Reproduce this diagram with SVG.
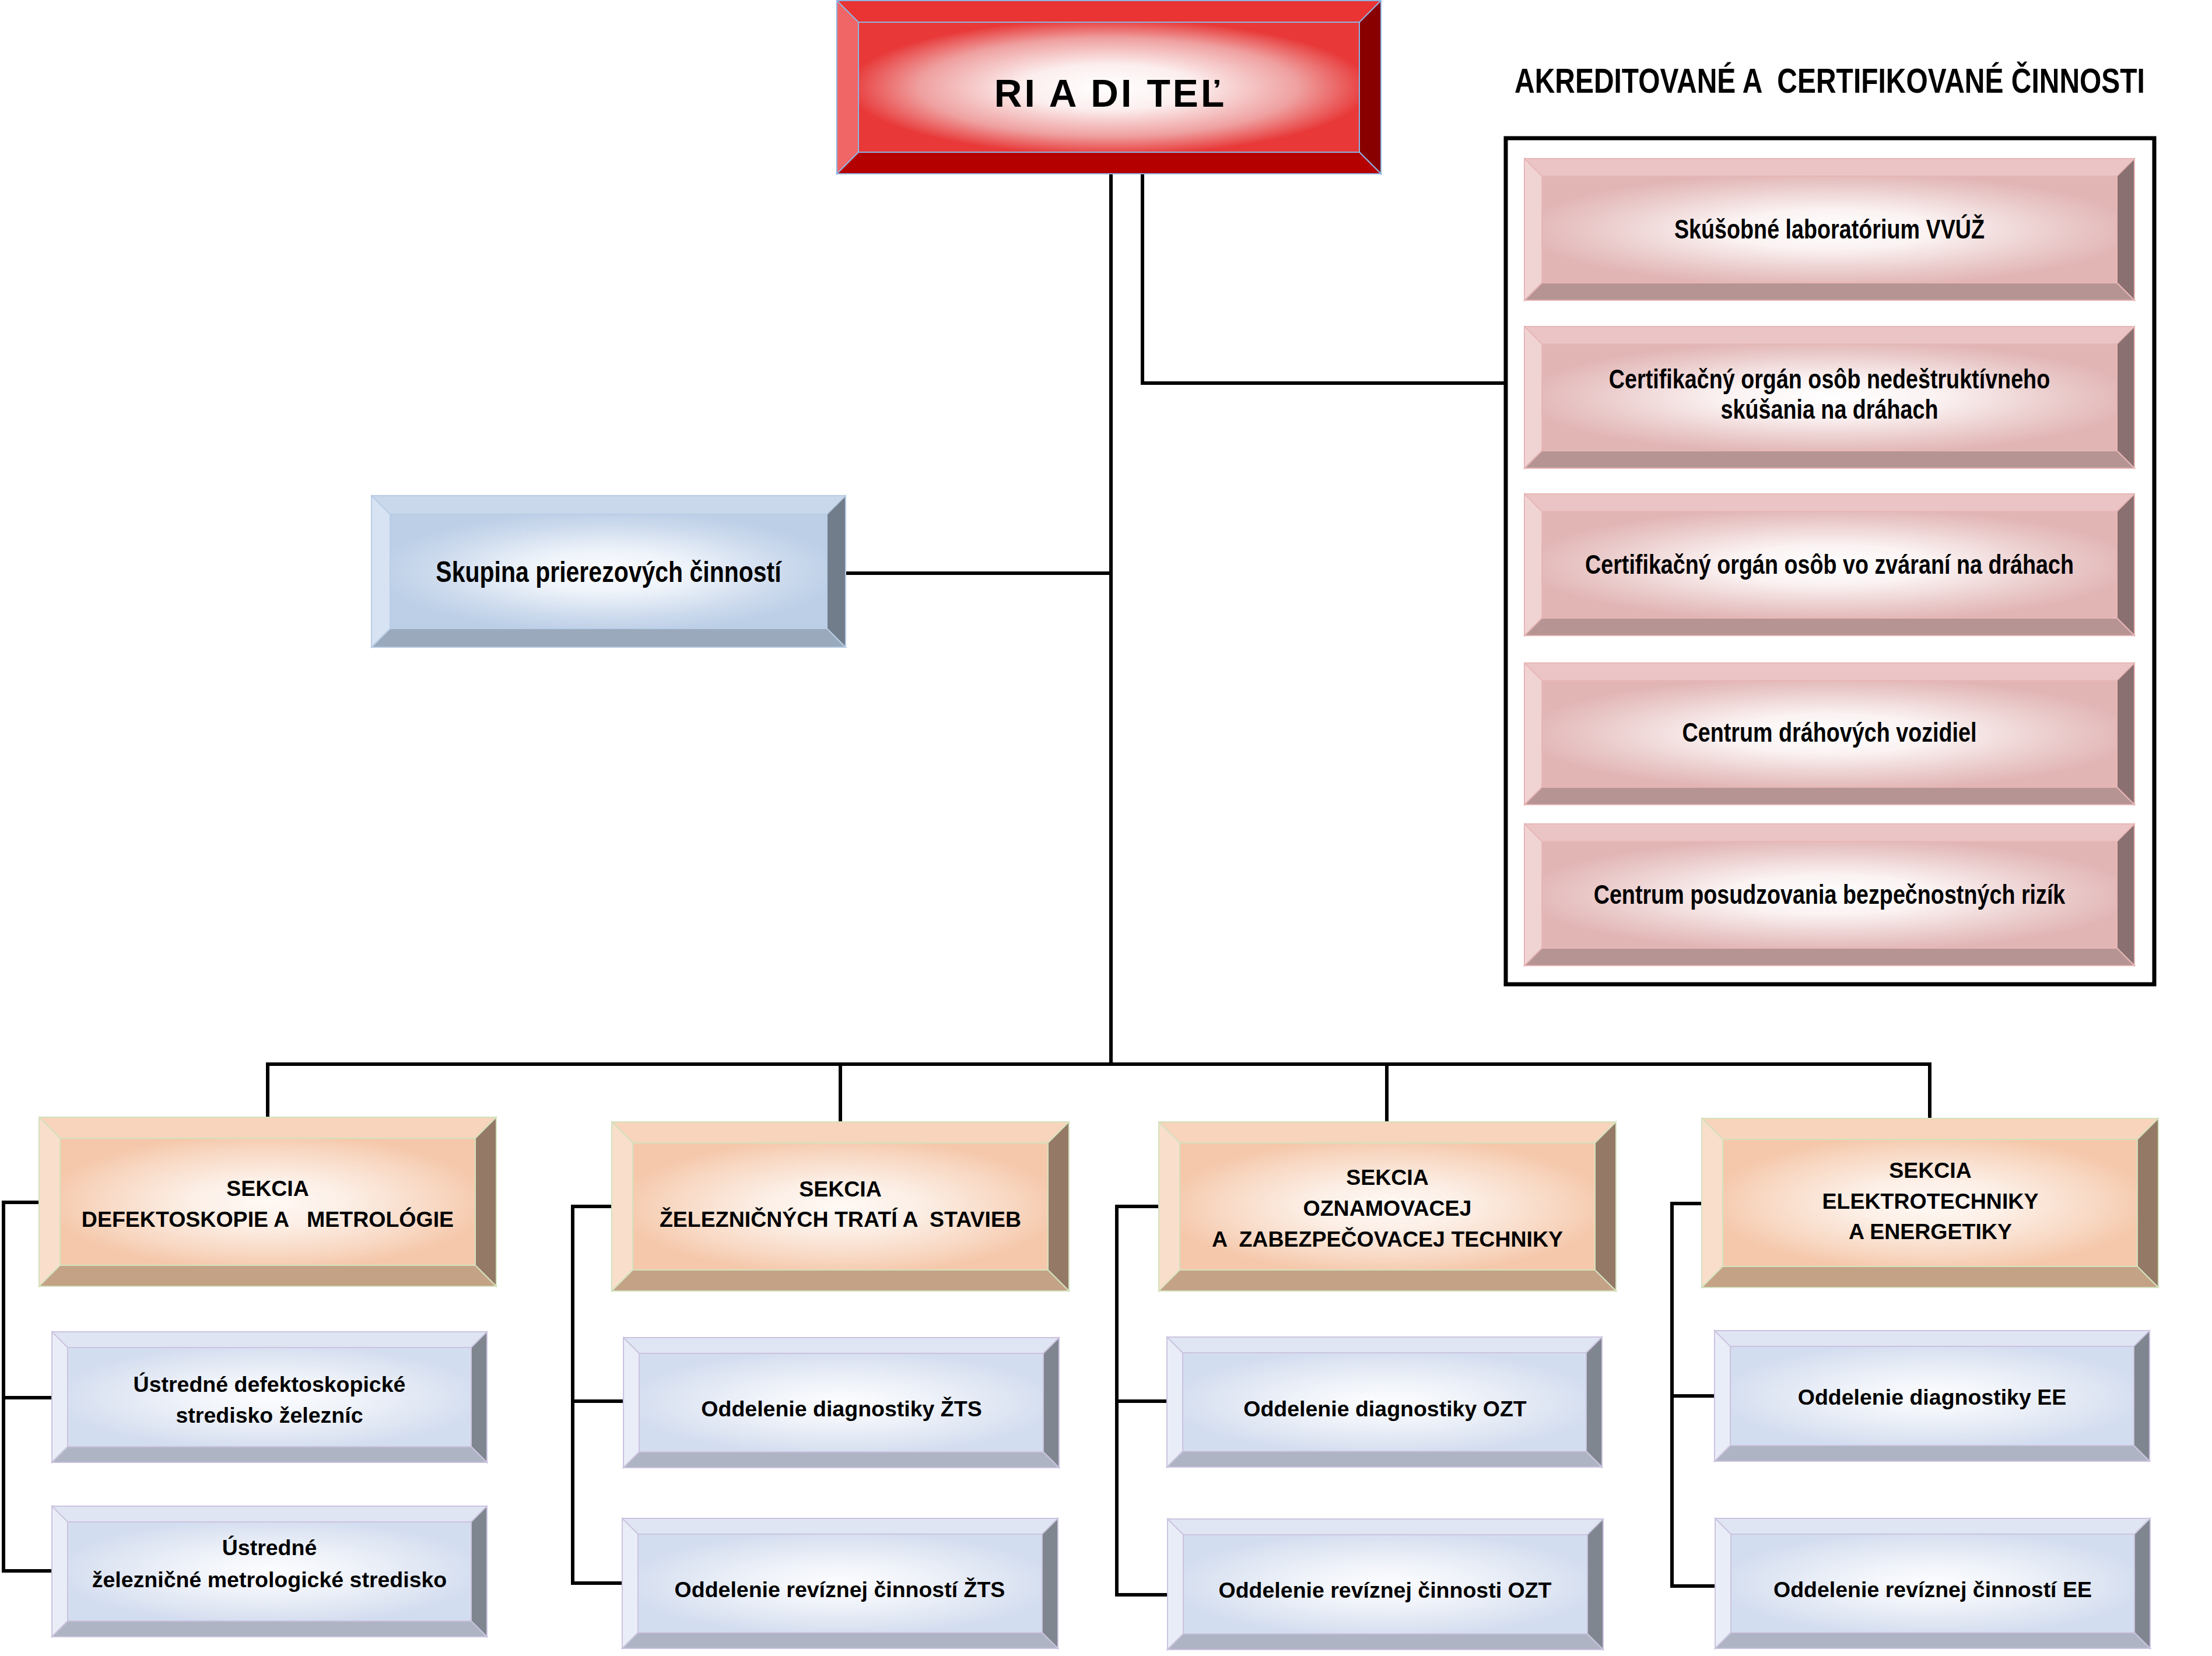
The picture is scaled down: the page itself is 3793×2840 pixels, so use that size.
<svg xmlns="http://www.w3.org/2000/svg" width="3793" height="2840" viewBox="0 0 3793 2840">
<defs>
<radialGradient id="gRed" cx="0.5" cy="0.5" r="0.58"><stop offset="0" stop-color="#FFFFFF"/><stop offset="0.3" stop-color="#FCEEEE"/><stop offset="0.65" stop-color="#EFA0A0"/><stop offset="0.9" stop-color="#E83838"/></radialGradient>
<radialGradient id="gPink" cx="0.5" cy="0.5" r="0.58"><stop offset="0" stop-color="#FFFFFF"/><stop offset="0.32" stop-color="#FBF2F2"/><stop offset="0.7" stop-color="#EACACA"/><stop offset="0.92" stop-color="#E2B5B5"/></radialGradient>
<radialGradient id="gSky" cx="0.5" cy="0.5" r="0.58"><stop offset="0" stop-color="#FBFCFE"/><stop offset="0.32" stop-color="#EEF3FA"/><stop offset="0.7" stop-color="#CCDAED"/><stop offset="0.92" stop-color="#BCCFE7"/></radialGradient>
<radialGradient id="gOr" cx="0.5" cy="0.5" r="0.58"><stop offset="0" stop-color="#FFF9F5"/><stop offset="0.32" stop-color="#FCEFE6"/><stop offset="0.7" stop-color="#F8D8C3"/><stop offset="0.92" stop-color="#F5C8AB"/></radialGradient>
<radialGradient id="gLav" cx="0.5" cy="0.5" r="0.58"><stop offset="0" stop-color="#FCFDFF"/><stop offset="0.32" stop-color="#F1F4FA"/><stop offset="0.7" stop-color="#DFE6F3"/><stop offset="0.92" stop-color="#D3DDF0"/></radialGradient>
</defs>
<style>
text{font-family:"Liberation Sans",Arial,sans-serif;font-weight:bold;fill:#000;white-space:pre}
.w{font-size:37.5px;text-anchor:middle}
.n{text-anchor:middle}
.conn path{fill:none;stroke:#000;stroke-width:6}
.red rect,.red polygon{stroke:#8EB4E3;stroke-width:2}
.red .t{fill:#EA3333}.red .l{fill:#F06666}.red .r{fill:#880000}.red .b{fill:#B50000}.red .f{fill:url(#gRed)}
.pink rect,.pink polygon{stroke:#E8B6B6;stroke-width:2}
.pink .t{fill:#EBC5C5}.pink .l{fill:#F0D4D4}.pink .r{fill:#8A7070}.pink .b{fill:#B69494}.pink .f{fill:url(#gPink)}
.sky rect,.sky polygon{stroke:#B9CDE5;stroke-width:2}
.sky .t{fill:#C9D8EB}.sky .l{fill:#D7E3F2}.sky .r{fill:#717D8B}.sky .b{fill:#9AA9BC}.sky .f{fill:url(#gSky)}
.or rect,.or polygon{stroke:#D3E2BE;stroke-width:2}
.or .t{fill:#F7D4BB}.or .l{fill:#F9DECB}.or .r{fill:#947A66}.or .b{fill:#C4A286}.or .f{fill:url(#gOr)}
.lav rect,.lav polygon{stroke:#CBC3DF;stroke-width:2}
.lav .t{fill:#DFE5F3}.lav .l{fill:#E9EDF7}.lav .r{fill:#80868F}.lav .b{fill:#AEB4C3}.lav .f{fill:url(#gLav)}
</style>
<rect width="3793" height="2840" fill="#FFFFFF"/>

<g id="connectors" class="conn">
<path d="M1905 298 V1825"/>
<path d="M1959 298 V657 H2582"/>
<path d="M1450 983 H1905"/>
<path d="M459 1916 V1825 H3309 V1918"/>
<path d="M1441 1825 V1924"/>
<path d="M2378 1825 V1924"/>
<path d="M67 2062 H6 V2694 H89 M6 2397 H89"/>
<path d="M1049 2069 H982 V2715 H1067 M982 2403 H1069"/>
<path d="M1987 2069 H1915 V2735 H2002 M1915 2403 H2001"/>
<path d="M2918 2064 H2867 V2720 H2941 M2867 2394 H2940"/>
</g>

<g id="riaditel" class="red">
<rect class="t" x="1435" y="1" width="933" height="297"/>
<polygon class="l" points="1435,1 1472,38 1472,261 1435,298"/>
<polygon class="r" points="2368,1 2331,38 2331,261 2368,298"/>
<polygon class="b" points="1435,298 1472,261 2331,261 2368,298"/>
<rect class="f" x="1472" y="38" width="859" height="223"/>
<text x="1904" y="183" style="font-size:66px;text-anchor:middle;letter-spacing:4px">RI A DI TEĽ</text>
</g>

<g id="skupina" class="sky">
<rect class="t" x="637" y="850" width="813" height="260"/>
<polygon class="l" points="637,850 669,882 669,1078 637,1110"/>
<polygon class="r" points="1450,850 1418,882 1418,1078 1450,1110"/>
<polygon class="b" points="637,1110 669,1078 1418,1078 1450,1110"/>
<rect class="f" x="669" y="882" width="749" height="196"/>
<text class="n" transform="translate(1043.5,998) scale(0.82,1)" style="font-size:50px">Skupina prierezových činností</text>
</g>

<g id="akreditovane">
<text transform="translate(2597,159) scale(0.82,1)" style="font-size:58.5px">AKREDITOVANÉ A  CERTIFIKOVANÉ ČINNOSTI</text>
<rect x="2582" y="237" width="1112" height="1451" fill="none" stroke="#000" stroke-width="7"/>
</g>

<g id="p1" class="pink">
<rect class="t" x="2614" y="272" width="1046" height="243"/>
<polygon class="l" points="2614,272 2644,302 2644,485 2614,515"/>
<polygon class="r" points="3660,272 3630,302 3630,485 3660,515"/>
<polygon class="b" points="2614,515 2644,485 3630,485 3660,515"/>
<rect class="f" x="2644" y="302" width="986" height="183"/>
<text class="n" transform="translate(3137,409) scale(0.82,1)" style="font-size:46px">Skúšobné laboratórium VVÚŽ</text>
</g>

<g id="p2" class="pink">
<rect class="t" x="2614" y="560" width="1046" height="243"/>
<polygon class="l" points="2614,560 2644,590 2644,773 2614,803"/>
<polygon class="r" points="3660,560 3630,590 3630,773 3660,803"/>
<polygon class="b" points="2614,803 2644,773 3630,773 3660,803"/>
<rect class="f" x="2644" y="590" width="986" height="183"/>
<text class="n" transform="translate(3137,666) scale(0.82,1)" style="font-size:46px"><tspan x="0" y="0">Certifikačný orgán osôb nedeštruktívneho</tspan><tspan x="0" y="52">skúšania na dráhach</tspan></text>
</g>

<g id="p3" class="pink">
<rect class="t" x="2614" y="847" width="1046" height="243"/>
<polygon class="l" points="2614,847 2644,877 2644,1060 2614,1090"/>
<polygon class="r" points="3660,847 3630,877 3630,1060 3660,1090"/>
<polygon class="b" points="2614,1090 2644,1060 3630,1060 3660,1090"/>
<rect class="f" x="2644" y="877" width="986" height="183"/>
<text class="n" transform="translate(3137,984) scale(0.82,1)" style="font-size:46px">Certifikačný orgán osôb vo zváraní na dráhach</text>
</g>

<g id="p4" class="pink">
<rect class="t" x="2614" y="1137" width="1046" height="243"/>
<polygon class="l" points="2614,1137 2644,1167 2644,1350 2614,1380"/>
<polygon class="r" points="3660,1137 3630,1167 3630,1350 3660,1380"/>
<polygon class="b" points="2614,1380 2644,1350 3630,1350 3660,1380"/>
<rect class="f" x="2644" y="1167" width="986" height="183"/>
<text class="n" transform="translate(3137,1272) scale(0.82,1)" style="font-size:46px">Centrum dráhových vozidiel</text>
</g>

<g id="p5" class="pink">
<rect class="t" x="2614" y="1413" width="1046" height="243"/>
<polygon class="l" points="2614,1413 2644,1443 2644,1626 2614,1656"/>
<polygon class="r" points="3660,1413 3630,1443 3630,1626 3660,1656"/>
<polygon class="b" points="2614,1656 2644,1626 3630,1626 3660,1656"/>
<rect class="f" x="2644" y="1443" width="986" height="183"/>
<text class="n" transform="translate(3137,1550) scale(0.82,1)" style="font-size:46px">Centrum posudzovania bezpečnostných rizík</text>
</g>

<g id="o1" class="or">
<rect class="t" x="67" y="1916" width="784" height="290"/>
<polygon class="l" points="67,1916 103,1952 103,2170 67,2206"/>
<polygon class="r" points="851,1916 815,1952 815,2170 851,2206"/>
<polygon class="b" points="67,2206 103,2170 815,2170 851,2206"/>
<rect class="f" x="103" y="1952" width="712" height="218"/>
<text class="w"><tspan x="459" y="2051">SEKCIA</tspan><tspan x="459" y="2104">DEFEKTOSKOPIE A   METROLÓGIE</tspan></text>
</g>

<g id="o2" class="or">
<rect class="t" x="1049" y="1924" width="784" height="290"/>
<polygon class="l" points="1049,1924 1085,1960 1085,2178 1049,2214"/>
<polygon class="r" points="1833,1924 1797,1960 1797,2178 1833,2214"/>
<polygon class="b" points="1049,2214 1085,2178 1797,2178 1833,2214"/>
<rect class="f" x="1085" y="1960" width="712" height="218"/>
<text class="w"><tspan x="1441" y="2052">SEKCIA</tspan><tspan x="1441" y="2104">ŽELEZNIČNÝCH TRATÍ A  STAVIEB</tspan></text>
</g>

<g id="o3" class="or">
<rect class="t" x="1987" y="1924" width="784" height="290"/>
<polygon class="l" points="1987,1924 2023,1960 2023,2178 1987,2214"/>
<polygon class="r" points="2771,1924 2735,1960 2735,2178 2771,2214"/>
<polygon class="b" points="1987,2214 2023,2178 2735,2178 2771,2214"/>
<rect class="f" x="2023" y="1960" width="712" height="218"/>
<text class="w"><tspan x="2379" y="2032">SEKCIA</tspan><tspan x="2379" y="2085">OZNAMOVACEJ</tspan><tspan x="2379" y="2138">A  ZABEZPEČOVACEJ TECHNIKY</tspan></text>
</g>

<g id="o4" class="or">
<rect class="t" x="2918" y="1918" width="783" height="290"/>
<polygon class="l" points="2918,1918 2954,1954 2954,2172 2918,2208"/>
<polygon class="r" points="3701,1918 3665,1954 3665,2172 3701,2208"/>
<polygon class="b" points="2918,2208 2954,2172 3665,2172 3701,2208"/>
<rect class="f" x="2954" y="1954" width="711" height="218"/>
<text class="w"><tspan x="3310" y="2020">SEKCIA</tspan><tspan x="3310" y="2073">ELEKTROTECHNIKY</tspan><tspan x="3310" y="2125">A ENERGETIKY</tspan></text>
</g>

<g id="b1a" class="lav">
<rect class="t" x="89" y="2284" width="746" height="224"/>
<polygon class="l" points="89,2284 116,2311 116,2481 89,2508"/>
<polygon class="r" points="835,2284 808,2311 808,2481 835,2508"/>
<polygon class="b" points="89,2508 116,2481 808,2481 835,2508"/>
<rect class="f" x="116" y="2311" width="692" height="170"/>
<text class="w"><tspan x="462" y="2387">Ústredné defektoskopické</tspan><tspan x="462" y="2440">stredisko železníc</tspan></text>
</g>

<g id="b1b" class="lav">
<rect class="t" x="89" y="2583" width="746" height="224"/>
<polygon class="l" points="89,2583 116,2610 116,2780 89,2807"/>
<polygon class="r" points="835,2583 808,2610 808,2780 835,2807"/>
<polygon class="b" points="89,2807 116,2780 808,2780 835,2807"/>
<rect class="f" x="116" y="2610" width="692" height="170"/>
<text class="w"><tspan x="462" y="2667">Ústredné</tspan><tspan x="462" y="2722">železničné metrologické stredisko</tspan></text>
</g>

<g id="b2a" class="lav">
<rect class="t" x="1069" y="2294" width="747" height="223"/>
<polygon class="l" points="1069,2294 1096,2321 1096,2490 1069,2517"/>
<polygon class="r" points="1816,2294 1789,2321 1789,2490 1816,2517"/>
<polygon class="b" points="1069,2517 1096,2490 1789,2490 1816,2517"/>
<rect class="f" x="1096" y="2321" width="693" height="169"/>
<text class="w" x="1443" y="2429">Oddelenie diagnostiky ŽTS</text>
</g>

<g id="b2b" class="lav">
<rect class="t" x="1067" y="2604" width="747" height="223"/>
<polygon class="l" points="1067,2604 1094,2631 1094,2800 1067,2827"/>
<polygon class="r" points="1814,2604 1787,2631 1787,2800 1814,2827"/>
<polygon class="b" points="1067,2827 1094,2800 1787,2800 1814,2827"/>
<rect class="f" x="1094" y="2631" width="693" height="169"/>
<text class="w" x="1440" y="2739">Oddelenie revíznej činností ŽTS</text>
</g>

<g id="b3a" class="lav">
<rect class="t" x="2001" y="2293" width="746" height="223"/>
<polygon class="l" points="2001,2293 2028,2320 2028,2489 2001,2516"/>
<polygon class="r" points="2747,2293 2720,2320 2720,2489 2747,2516"/>
<polygon class="b" points="2001,2516 2028,2489 2720,2489 2747,2516"/>
<rect class="f" x="2028" y="2320" width="692" height="169"/>
<text class="w" x="2375" y="2429">Oddelenie diagnostiky OZT</text>
</g>

<g id="b3b" class="lav">
<rect class="t" x="2002" y="2605" width="747" height="224"/>
<polygon class="l" points="2002,2605 2029,2632 2029,2802 2002,2829"/>
<polygon class="r" points="2749,2605 2722,2632 2722,2802 2749,2829"/>
<polygon class="b" points="2002,2829 2029,2802 2722,2802 2749,2829"/>
<rect class="f" x="2029" y="2632" width="693" height="170"/>
<text class="w" x="2375" y="2740">Oddelenie revíznej činnosti OZT</text>
</g>

<g id="b4a" class="lav">
<rect class="t" x="2940" y="2282" width="746" height="224"/>
<polygon class="l" points="2940,2282 2967,2309 2967,2479 2940,2506"/>
<polygon class="r" points="3686,2282 3659,2309 3659,2479 3686,2506"/>
<polygon class="b" points="2940,2506 2967,2479 3659,2479 3686,2506"/>
<rect class="f" x="2967" y="2309" width="692" height="170"/>
<text class="w" x="3313" y="2409">Oddelenie diagnostiky EE</text>
</g>

<g id="b4b" class="lav">
<rect class="t" x="2941" y="2604" width="746" height="223"/>
<polygon class="l" points="2941,2604 2968,2631 2968,2800 2941,2827"/>
<polygon class="r" points="3687,2604 3660,2631 3660,2800 3687,2827"/>
<polygon class="b" points="2941,2827 2968,2800 3660,2800 3687,2827"/>
<rect class="f" x="2968" y="2631" width="692" height="169"/>
<text class="w" x="3314" y="2739">Oddelenie revíznej činností EE</text>
</g>
</svg>
